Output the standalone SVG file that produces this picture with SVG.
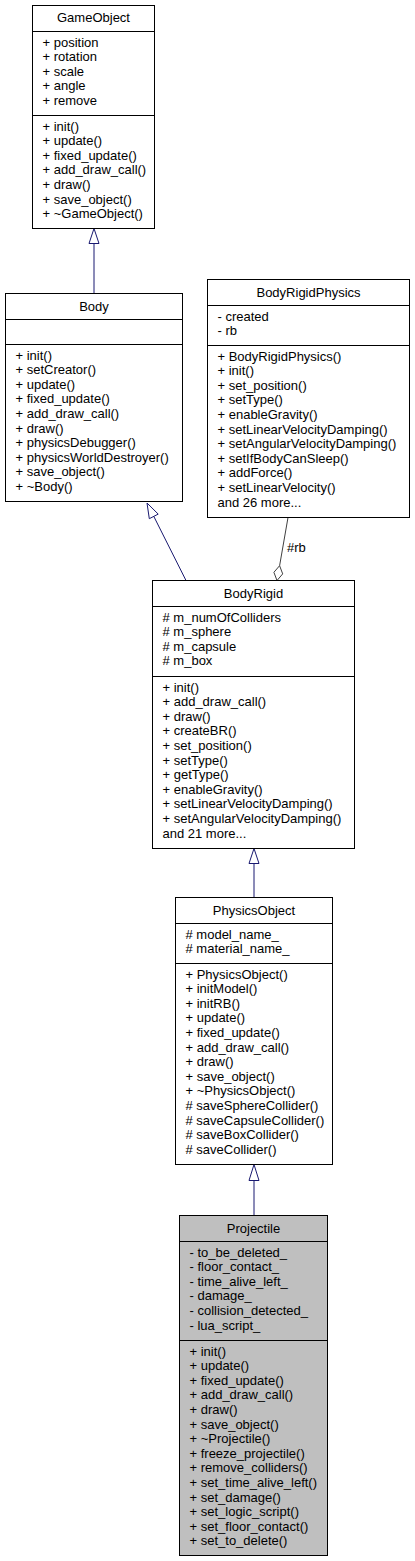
<svg xmlns="http://www.w3.org/2000/svg" width="415" height="1561" viewBox="0 0 415 1561">
<style>
text{font-family:"Liberation Sans",Arial,Helvetica,sans-serif;font-size:13px;fill:#000}
.t{text-anchor:middle}
.box{fill:#fff;stroke:#000;stroke-width:1}
.hl{fill:#bfbfbf;stroke:#000;stroke-width:1}
.sep{stroke:#000;stroke-width:1}
.inh{stroke:#191970;stroke-width:1;fill:none}
.inhh{stroke:#191970;stroke-width:1;fill:#fff}
.use{stroke:#404040;stroke-width:1;fill:none}
.useh{stroke:#404040;stroke-width:1;fill:#fff}
</style>
<rect width="415" height="1561" fill="#fff"/>
<g id="connectors">
<line class="inh" x1="94" y1="293.5" x2="94" y2="243.5"/>
<polygon class="inhh" points="94,228.5 89,243.5 99,243.5"/>
<line class="inh" x1="186" y1="580.5" x2="153.8" y2="516.4"/>
<polygon class="inhh" points="147,503 158.2,514.1 149.3,518.7"/>
<line class="use" x1="288" y1="517.5" x2="279.6" y2="565.7"/>
<polygon class="useh" points="277,580.5 282.7,573.9 279.6,565.7 273.9,572.3"/>
<text x="287" y="552">#rb</text>
<line class="inh" x1="254" y1="897.5" x2="254" y2="863.5"/>
<polygon class="inhh" points="254,848.5 249,863.5 259,863.5"/>
<line class="inh" x1="254" y1="1215.5" x2="254" y2="1180.5"/>
<polygon class="inhh" points="254,1164.5 249,1180.5 259,1180.5"/>
</g>
<g id="GameObject">
<rect class="box" x="32.5" y="5.5" width="122" height="223"/>
<line class="sep" x1="32.5" y1="31.5" x2="154.5" y2="31.5"/>
<line class="sep" x1="32.5" y1="115.5" x2="154.5" y2="115.5"/>
<text class="t" x="93.5" y="22">GameObject</text>
<text x="42.5" y="46.5">+ position</text>
<text x="42.5" y="61.1">+ rotation</text>
<text x="42.5" y="75.7">+ scale</text>
<text x="42.5" y="90.3">+ angle</text>
<text x="42.5" y="104.9">+ remove</text>
<text x="42.5" y="130.5">+ init()</text>
<text x="42.5" y="145.1">+ update()</text>
<text x="42.5" y="159.7">+ fixed_update()</text>
<text x="42.5" y="174.3">+ add_draw_call()</text>
<text x="42.5" y="188.9">+ draw()</text>
<text x="42.5" y="203.5">+ save_object()</text>
<text x="42.5" y="218.1">+ ~GameObject()</text>
</g>
<g id="Body">
<rect class="box" x="5.5" y="293.5" width="177" height="208"/>
<line class="sep" x1="5.5" y1="319.5" x2="182.5" y2="319.5"/>
<line class="sep" x1="5.5" y1="344.5" x2="182.5" y2="344.5"/>
<text class="t" x="94" y="310.5">Body</text>
<text x="15.5" y="359.5">+ init()</text>
<text x="15.5" y="374.1">+ setCreator()</text>
<text x="15.5" y="388.7">+ update()</text>
<text x="15.5" y="403.3">+ fixed_update()</text>
<text x="15.5" y="417.9">+ add_draw_call()</text>
<text x="15.5" y="432.5">+ draw()</text>
<text x="15.5" y="447.1">+ physicsDebugger()</text>
<text x="15.5" y="461.7">+ physicsWorldDestroyer()</text>
<text x="15.5" y="476.3">+ save_object()</text>
<text x="15.5" y="490.9">+ ~Body()</text>
</g>
<g id="BodyRigidPhysics">
<rect class="box" x="207.5" y="279.5" width="202" height="238"/>
<line class="sep" x1="207.5" y1="305.5" x2="409.5" y2="305.5"/>
<line class="sep" x1="207.5" y1="345.5" x2="409.5" y2="345.5"/>
<text class="t" x="308.5" y="296.5">BodyRigidPhysics</text>
<text x="217.5" y="320.5">- created</text>
<text x="217.5" y="335.1">- rb</text>
<text x="217.5" y="360.5">+ BodyRigidPhysics()</text>
<text x="217.5" y="375.1">+ init()</text>
<text x="217.5" y="389.7">+ set_position()</text>
<text x="217.5" y="404.3">+ setType()</text>
<text x="217.5" y="418.9">+ enableGravity()</text>
<text x="217.5" y="433.5">+ setLinearVelocityDamping()</text>
<text x="217.5" y="448.1">+ setAngularVelocityDamping()</text>
<text x="217.5" y="462.7">+ setIfBodyCanSleep()</text>
<text x="217.5" y="477.3">+ addForce()</text>
<text x="217.5" y="491.9">+ setLinearVelocity()</text>
<text x="217.5" y="506.5">and 26 more...</text>
</g>
<g id="BodyRigid">
<rect class="box" x="152.5" y="580.5" width="202" height="268"/>
<line class="sep" x1="152.5" y1="606.5" x2="354.5" y2="606.5"/>
<line class="sep" x1="152.5" y1="676.5" x2="354.5" y2="676.5"/>
<text class="t" x="253.5" y="597.5">BodyRigid</text>
<text x="162.5" y="621.5"># m_numOfColliders</text>
<text x="162.5" y="636.1"># m_sphere</text>
<text x="162.5" y="650.7"># m_capsule</text>
<text x="162.5" y="665.3"># m_box</text>
<text x="162.5" y="691.5">+ init()</text>
<text x="162.5" y="706.1">+ add_draw_call()</text>
<text x="162.5" y="720.7">+ draw()</text>
<text x="162.5" y="735.3">+ createBR()</text>
<text x="162.5" y="749.9">+ set_position()</text>
<text x="162.5" y="764.5">+ setType()</text>
<text x="162.5" y="779.1">+ getType()</text>
<text x="162.5" y="793.7">+ enableGravity()</text>
<text x="162.5" y="808.3">+ setLinearVelocityDamping()</text>
<text x="162.5" y="822.9">+ setAngularVelocityDamping()</text>
<text x="162.5" y="837.5">and 21 more...</text>
</g>
<g id="PhysicsObject">
<rect class="box" x="175.5" y="897.5" width="157" height="267"/>
<line class="sep" x1="175.5" y1="923.5" x2="332.5" y2="923.5"/>
<line class="sep" x1="175.5" y1="963.5" x2="332.5" y2="963.5"/>
<text class="t" x="254" y="914.5">PhysicsObject</text>
<text x="185.5" y="938.5"># model_name_</text>
<text x="185.5" y="953.1"># material_name_</text>
<text x="185.5" y="978.5">+ PhysicsObject()</text>
<text x="185.5" y="993.1">+ initModel()</text>
<text x="185.5" y="1007.7">+ initRB()</text>
<text x="185.5" y="1022.3">+ update()</text>
<text x="185.5" y="1036.9">+ fixed_update()</text>
<text x="185.5" y="1051.5">+ add_draw_call()</text>
<text x="185.5" y="1066.1">+ draw()</text>
<text x="185.5" y="1080.7">+ save_object()</text>
<text x="185.5" y="1095.3">+ ~PhysicsObject()</text>
<text x="185.5" y="1109.9"># saveSphereCollider()</text>
<text x="185.5" y="1124.5"># saveCapsuleCollider()</text>
<text x="185.5" y="1139.1"># saveBoxCollider()</text>
<text x="185.5" y="1153.7"># saveCollider()</text>
</g>
<g id="Projectile">
<rect class="hl" x="179.5" y="1215.5" width="148" height="340"/>
<line class="sep" x1="179.5" y1="1241.5" x2="327.5" y2="1241.5"/>
<line class="sep" x1="179.5" y1="1340.5" x2="327.5" y2="1340.5"/>
<text class="t" x="253.5" y="1232.5">Projectile</text>
<text x="189.5" y="1256.5">- to_be_deleted_</text>
<text x="189.5" y="1271.1">- floor_contact_</text>
<text x="189.5" y="1285.7">- time_alive_left_</text>
<text x="189.5" y="1300.3">- damage_</text>
<text x="189.5" y="1314.9">- collision_detected_</text>
<text x="189.5" y="1329.5">- lua_script_</text>
<text x="189.5" y="1355.5">+ init()</text>
<text x="189.5" y="1370.1">+ update()</text>
<text x="189.5" y="1384.7">+ fixed_update()</text>
<text x="189.5" y="1399.3">+ add_draw_call()</text>
<text x="189.5" y="1413.9">+ draw()</text>
<text x="189.5" y="1428.5">+ save_object()</text>
<text x="189.5" y="1443.1">+ ~Projectile()</text>
<text x="189.5" y="1457.7">+ freeze_projectile()</text>
<text x="189.5" y="1472.3">+ remove_colliders()</text>
<text x="189.5" y="1486.9">+ set_time_alive_left()</text>
<text x="189.5" y="1501.5">+ set_damage()</text>
<text x="189.5" y="1516.1">+ set_logic_script()</text>
<text x="189.5" y="1530.7">+ set_floor_contact()</text>
<text x="189.5" y="1545.3">+ set_to_delete()</text>
</g>
</svg>
